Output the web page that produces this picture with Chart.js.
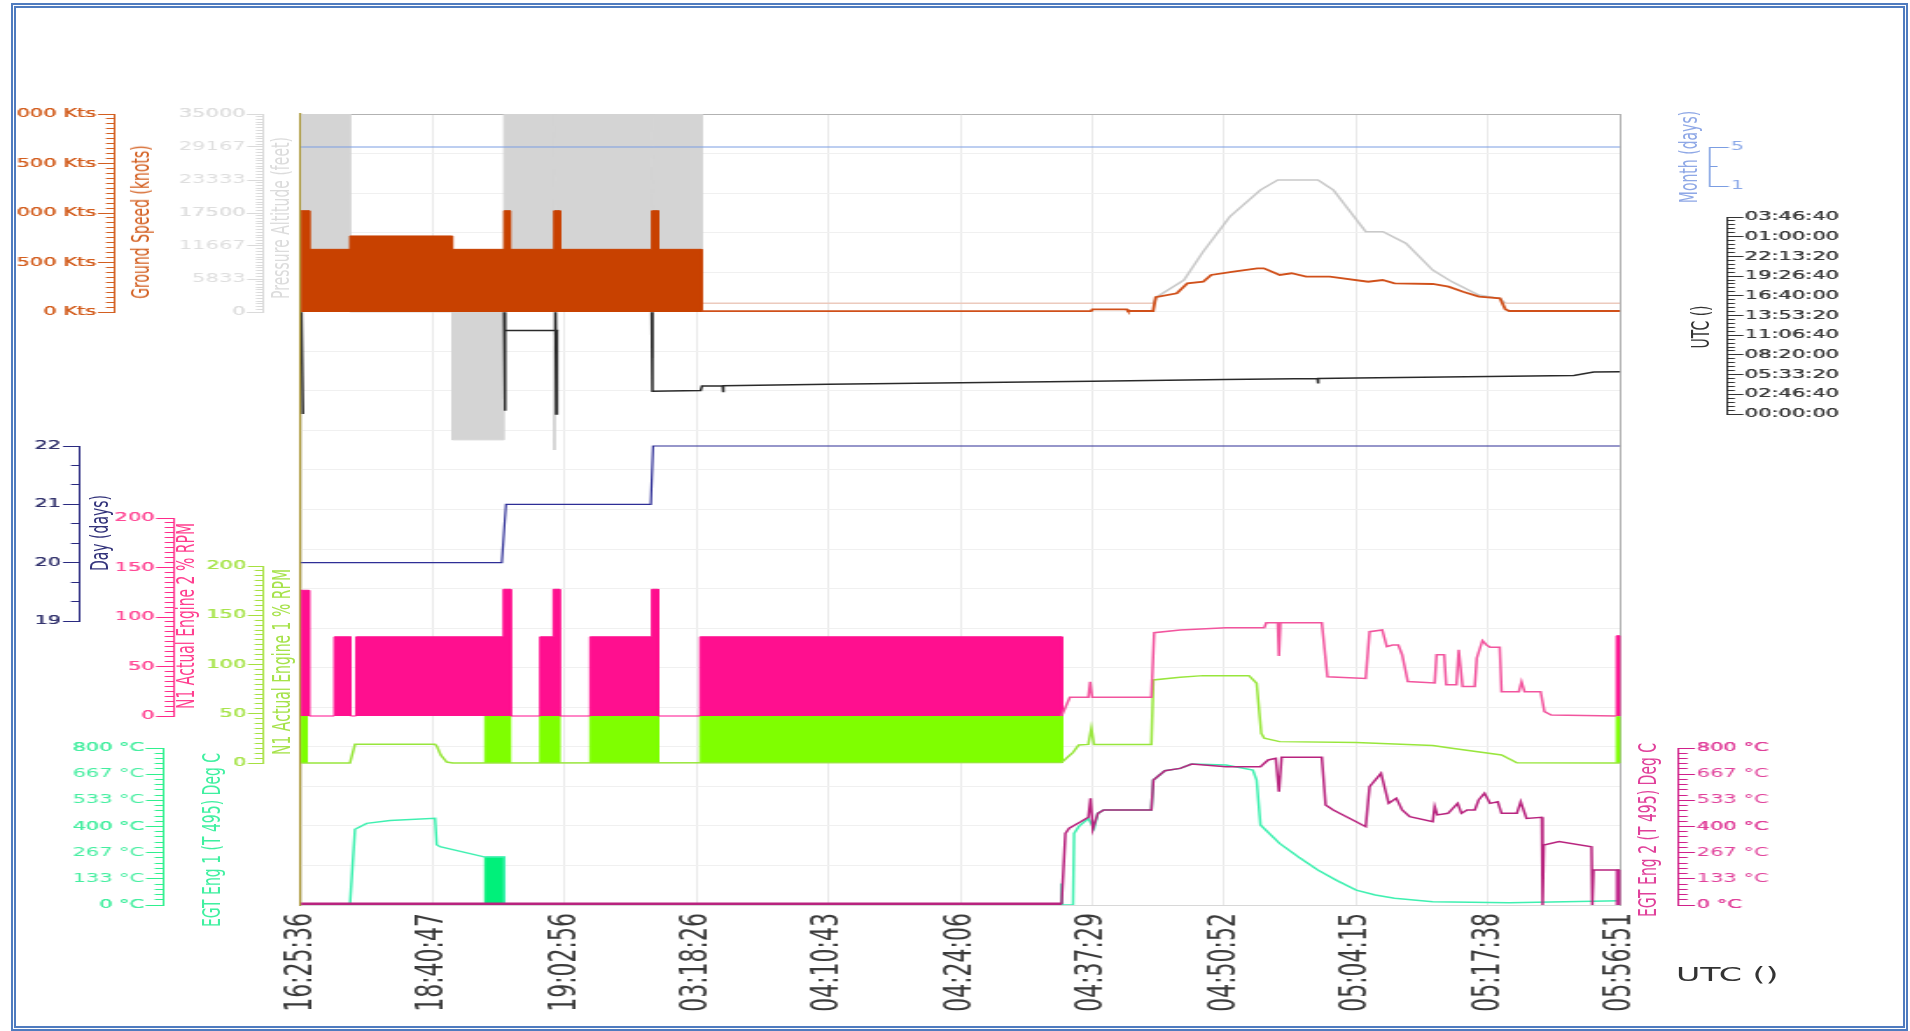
<!DOCTYPE html>
<html><head><meta charset="utf-8">
<script src="https://cdn.jsdelivr.net/npm/chart.js@4.4.1/dist/chart.umd.min.js"></script>
<style>
html,body{margin:0;padding:0;background:#fff;overflow:hidden;}
#page{position:relative;width:1910px;height:1031px;overflow:hidden;background:#fff;}
#stage{position:absolute;left:0;top:0;width:1092px;height:1031px;transform-origin:0 0;transform:scaleX(1.749084);}
.t{position:absolute;white-space:nowrap;font-family:'DejaVu Sans';font-size:14px;line-height:1;transform:translate(-50%,-50%) rotate(-90deg);}
.h{position:absolute;white-space:nowrap;font-family:'DejaVu Sans';line-height:1;}
#cover{position:absolute;left:0;top:0;width:17px;height:1031px;background:#fff;z-index:2;}
#frame{position:absolute;left:11px;top:3px;width:1897px;height:1028px;box-sizing:border-box;border:5px double #4f7bbf;z-index:3;}
</style></head>
<body>
<div id="page">
  <div id="stage"><canvas id="main" width="1092" height="1031" style="position:absolute;left:0;top:0;"></canvas></div>
  <div id="cover"></div>
  <div id="frame"></div>
</div>
<script>
// ---------------- DATA ----------------
// x axis: sample position 0..1000, labelled with UTC time at every 100
const xTickValues = [0,100,200,300,400,500,600,700,800,900,1000];
const xTickLabels = ['16:25:36','18:40:47','19:02:56','03:18:26','04:10:43','04:24:06','04:37:29','04:50:52','05:04:15','05:17:38','05:56:51'];

// Ground Speed (knots)
const gsNoiseX = [0,0,6.3,6.3,37.1,37.1,114.7,114.7,153.9,153.9,158.5,158.5,191.8,191.8,196.4,196.4,265.9,265.9,270.9,270.9,303.8,303.8];
const gsNoiseY = [0,1023,1023,633,633,768,768,633,633,1023,1023,633,633,1023,1023,633,633,1023,1023,633,633,0];
const gsX = [303.8,599,600,626,627,646,648,664,672,684,690,707,725,730,742,751,762,780,809,820,829,858,870,881,893,909,913,916,1000];
const gsY = [8,8,27,27,10,10,150,189,290,306,374,407,441,441,374,391,357,357,306,323,290,283,256,205,155,138,27,10,10];

// Pressure Altitude (feet)
const paNoiseX = [0,0,37.1,37.1,114.7,114.7,153.9,153.9,191.8,192.1,192.4,265.9,266.2,266.5,303.8,303.8];
const paNoiseY = [0,35000,35000,0,0,-22600,-22600,35000,35000,-24400,35000,35000,-8100,35000,35000,0];
const paX = [303.8,646.2,649.1,669.4,683.9,704.2,727.4,740.5,771,782.6,807.2,820.3,837.7,858,872.5,892.8,908.8,913.1,1000];
const paY = [1532,1532,2710,5657,10665,16852,21566,23333,23333,21566,14200,14200,12140,7424,5360,3005,2420,1532,1532];

// Month (days)
const monthX = [0,1000];
const monthY = [5,5];

// UTC (seconds of day)
const utcX = [0.4,1.4,1.6, 154.0,154.5,155.0,192.6,193.0,193.5,194.0,195.1,195.2, 265.9,266.4,303,304,319.7,320,320.3,400,500,600,700,770.7,771,771.3,800,900,965,980,1000];
const utcY = [51700,0,null, 51700,1600,42400,42400,51700,0,42400,42400,null, 51700,11500,11900,14200,14300,11000,14300,15043,15846,16649,17452,18020,15500,18020,18255,19058,19500,21300,21411];

// Day (days)
const dayX = [0,152.2,155.4,265.2,266.9,1000];
const dayY = [20,20,21,21,22,22];

// N1 Actual Engine 2 % RPM
const n2BlockX = [0,0,6.1,6.1, 25.2,25.2,37.7,37.7, 41.7,41.7,153.4,153.4,159,159, 181.2,181.2,191.3,191.3,196.1,196.1, 219.1,219.1,265.9,265.9,270.9,270.9, 302.5,302.5,577,577, 577, 997.3,997.3,1000,1000];
const n2BlockY = [0,127,127,0, 0,80,80,0, 0,80,80,128,128,0, 0,80,80,128,128,0, 0,80,80,128,128,0, 0,80,80,0, null, 0,81,81,0];
const n2X = [576.6,582.9,596.9,598.3,599.8,644.7,646.8,666.5,701.3,730.3, 731.8,740.5,741.4,742.5,773.9,778.2,807.2,810.1,819.7,823.2, 827.5,831.9,834.8,839.1,859.5,860.9,866.7,868.2,876,877.7, 880.6,889.9,891.4,895.7,898.6,901.5,908.8,910.2,923.3,925.3, 927.6,939.8,942.7,947.9,997.3];
const n2Y = [0,18.9,18.9,34.6,18.9,18.9,84.2,86.9,89.2,89.2, 94.2,94.2,60.6,94.2,94.2,39.7,38,85.2,86.9,70, 71.7,71.7,61.9,34.9,33.3,61.9,61.9,31.6,31.6,66.9, 29.9,29.9,58.6,76.1,72,69.4,69.4,24.6,24.6,34.6, 24.6,24.6,4.4,1,0];

// N1 Actual Engine 1 % RPM
const n1BlockX = [0,0,4.3,4.3, 4.3, 139.5,139.5,158.5,158.5, 158.5, 181.2,181.2,195.8,195.8, 195.8, 219.1,219.1,270.9,270.9, 270.9, 302.5,302.5,577,577, 577, 997.3,997.3,1000,1000];
const n1BlockY = [0,48,48,0, null, 0,48,48,0, null, 0,48,48,0, null, 0,48,48,0, null, 0,48,48,0, null, 0,47,47,0];
const n1X = [0,37.1,40.9,101.6,103,106,110.5,115,576.6,585.3, 589.6,596.9,599.2,601.2,644.7,646.2,666.5,683.9,718.7,724.5, 728,730.3,741.9,800,858,872.5,910.2,921.8,1000];
const n1Y = [0,0,19,19,17,8,1,0,0.5,10.8, 18.3,18.9,35.2,18.9,18.9,84.3,87,88.7,88.7,80.9, 30.1,25.1,21.7,20.7,17.7,15,8.1,0.3,0];

// EGT Eng 1 (T 495) Deg C
const egt1X = [0,37.1,40.9,49.8,67.5,101.6,102.9,105.4,139.5,154.1, 154.1,576,576.6,577.2,585.3,586.1,589.6,596.9,601.2,604.1, 608.5,644.7,646.2,654.9,666.5,675.2,701.3,721.6,724.5,727.4, 741.9,756.5,770.9,785.5,800,814.5,829,858,916,1000];
const egt1Y = [0,0,386,416,430,442,307,297,244,244, 0,0,110,0,0,365,399,441,390,467, 484,484,637,684,696,718,713,688,637,408, 314,243,178,124,76,51,34,17,12,22];
const egt1BlockX = [139.5,139.5,154.1,154.1];
const egt1BlockY = [0,244,244,0];

// EGT Eng 2 (T 495) Deg C
const egt2X = [0,576.6,579.5,582.4,591.1,596.9,598.6,600.3,604.1,608.5, 644.7,646.2,654.9,666.5,675.2,701.3,727.4,733.2,739,741.4, 743.4,773.9,776.8,782.6,800,807.2,810.1,818.8,824.6,830.4, 834.8,840.6,858,859.5,861.5,869.6,876.9,879.8,884.1,889.9, 892.8,897.2,901.5,907.3,910.2,921.8,924.7,929.1,940.7,941.3, 942.2,953.8,978.4,979,979.9,1000];
const egt2Y = [4,4,365,391,424,447,544,386,467,484, 484,637,684,696,718,705,705,739,747,577, 753,753,510,484,424,399,603,671,518,544, 484,450,424,501,459,467,518,467,484,484, 535,569,518,526,467,467,526,441,447,0, 306,323,297,0,178,178];
const egt2BlockX = [997.3,997.3,1000,1000];
const egt2BlockY = [0,178,178,0];

// time cursor markers
const cursorX = [0,0];
const cursorY = [20.16,-0.25];

// axis tick values / labels
const gsTicks = [0,500,1000,1500,2000];
const gsTickLabels = ['0 Kts','500 Kts','1000 Kts','1500 Kts','2000 Kts'];
const paTicks = [0,5833.33,11666.67,17500,23333.33,29166.67,35000];
const paTickLabels = ['0','5833','11667','17500','23333','29167','35000'];
const dayTicks = [19,20,21,22];
const dayTickLabels = ['19','20','21','22'];
const n1Ticks = [0,50,100,150,200];
const n1TickLabels = ['0','50','100','150','200'];
const egtTicks = [0,133.33,266.67,400,533.33,666.67,800];
const egtTickLabels = ['0 °C','133 °C','267 °C','400 °C','533 °C','667 °C','800 °C'];
const utcTicks = [0,10000,20000,30000,40000,50000,60000,70000,80000,90000,100000];
const utcTickLabels = ['00:00:00','02:46:40','05:33:20','08:20:00','11:06:40','13:53:20','16:40:00','19:26:40','22:13:20','01:00:00','03:46:40'];
const monthTicks = [1,5];
const monthTickLabels = ['1','5'];

// ---------------- LAYOUT ----------------
const S = 1910 / 1092;
const nat = fx => fx / S;
const CA_TOP = 114, CA_BOT = 905, STAGE_W = 1092, STAGE_H = 1031;
const CA_LEFT = nat(301), CA_RIGHT = nat(1620);
const FONT = 'DejaVu Sans';

function bandRange(vmin, vmax, yTop, yBot) {
  const per = (vmax - vmin) / (yBot - yTop);
  return { min: vmin - (CA_BOT - yBot) * per, max: vmax + (yTop - CA_TOP) * per };
}
function pts(xs, ys) { return xs.map((x, i) => ({ x: x, y: ys[i] })); }
function steps(a, b, st) { const r = []; for (let v = a; v <= b + 1e-6; v += st) r.push(+v.toFixed(4)); return r; }

const BANDS = {
  yGs: bandRange(0, 2000, 114, 312),
  yPa: bandRange(0, 35000, 114, 312),
  yMonth: bandRange(1, 5, 147, 186),
  yUtc: bandRange(0, 100000, 217, 414),
  yDay: bandRange(19, 22, 446, 621),
  yN2: bandRange(0, 200, 518, 716),
  yN1: bandRange(0, 200, 566, 763),
  yEgt: bandRange(0, 800, 748, 905)
};

const line = (label, xs, ys, axis, color, width, extra) => Object.assign({
  label: label, data: pts(xs, ys), yAxisID: axis, borderColor: color, backgroundColor: color,
  borderWidth: width, pointRadius: 0, tension: 0, spanGaps: false, fill: false
}, extra || {});

const datasets = [
  line('cursor', cursorX, cursorY, 'gridY', '#a89430', 0, {showLine: false, pointRadius: 5, pointStyle: 'triangle', pointRotation: [180, 0], clip: false}),
  line('EGT Eng 2 (T 495) Deg C', egt2X, egt2Y, 'yEgt', '#b8237e', 1.5, {segment: {borderWidth: c => c.p1.parsed.x <= 576.6 ? 3.5 : 1.5}}),
  line('EGT Eng 2 block', egt2BlockX, egt2BlockY, 'yEgt', '#c0208a', 1, {fill: {value: 0}}),
  line('EGT Eng 1 (T 495) Deg C', egt1X, egt1Y, 'yEgt', '#3ff0b0', 1.5),
  line('EGT Eng 1 block', egt1BlockX, egt1BlockY, 'yEgt', '#00f07a', 1, {fill: {value: 0}}),
  line('N1 Actual Engine 2 % RPM', n2X, n2Y, 'yN2', '#f2559e', 1.5),
  line('N1 Engine 2 block', n2BlockX, n2BlockY, 'yN2', '#ff0f8f', 1, {fill: {value: 0}}),
  line('N1 Actual Engine 1 % RPM', n1X, n1Y, 'yN1', '#98e63c', 1.5),
  line('N1 Engine 1 block', n1BlockX, n1BlockY, 'yN1', '#7fff00', 1, {fill: {value: 0}}),
  line('Day (days)', dayX, dayY, 'yDay', '#2e2e96', 1.2),
  line('UTC ()', utcX, utcY, 'yUtc', '#2a2a2a', 1.5),
  line('Month (days)', monthX, monthY, 'yMonth', '#7b9de2', 1),
  line('Ground Speed (knots)', gsX, gsY, 'yGs', '#d0501a', 1.8),
  line('Ground Speed noise', gsNoiseX, gsNoiseY, 'yGs', '#c84100', 1, {fill: {value: 0}}),
  line('Pressure Altitude (feet)', paX, paY, 'yPa', '#c9c9c9', 1.5,
       {segment: {borderColor: c => (c.p0.parsed.y < 1600 && c.p1.parsed.y < 1600) ? '#eccabd' : '#c9c9c9'}}),
  line('Pressure Altitude noise', paNoiseX, paNoiseY, 'yPa', '#d4d4d4', 1, {fill: {value: 0}})
];

const hidden = {};
for (const k in BANDS) hidden[k] = {type: 'linear', display: false, min: BANDS[k].min, max: BANDS[k].max};

new Chart(document.getElementById('main'), {
  type: 'line',
  data: {datasets: datasets},
  options: {
    responsive: false, animation: false, events: [],
    layout: {padding: {left: CA_LEFT, right: STAGE_W - CA_RIGHT, top: CA_TOP, bottom: 0}},
    plugins: {legend: {display: false}, tooltip: {enabled: false}},
    scales: Object.assign({
      x: {
        type: 'linear', position: 'bottom', min: 0, max: 1000,
        afterBuildTicks: s => { s.ticks = xTickValues.map(v => ({value: v})); },
        afterFit: s => { s.height = STAGE_H - CA_BOT; },
        ticks: {autoSkip: false, minRotation: 90, maxRotation: 90, padding: 8, color: '#3a3a3a',
                font: {family: FONT, size: 22},
                callback: v => { const i = xTickValues.indexOf(v); return i >= 0 ? xTickLabels[i] : ''; }},
        grid: {color: '#eaeaea', lineWidth: 1, drawTicks: false},
        border: {color: '#d8d8d8', width: 1}
      },
      xTop: {
        type: 'linear', position: 'top', min: 0, max: 1000,
        ticks: {display: false}, grid: {display: false},
        border: {color: '#b2b2b2', width: 1}, afterFit: s => { s.height = 0; }
      },
      gridY: {
        type: 'linear', position: 'left', min: 0, max: 20,
        afterBuildTicks: s => { s.ticks = steps(0, 20, 1).map(v => ({value: v})); },
        ticks: {display: false}, grid: {color: '#f0f0f0', drawTicks: false},
        border: {color: '#a89430', width: 1.2}, afterFit: s => { s.width = 0; }
      },
      yRight: {
        type: 'linear', position: 'right', min: 0, max: 1,
        ticks: {display: false}, grid: {display: false},
        border: {color: '#b2b2b2', width: 1}, afterFit: s => { s.width = 0; }
      }
    }, hidden)
  }
});

// ---------------- AXIS STRIPS ----------------
const stage = document.getElementById('stage');
function makeAxis(a) {
  const P = 14, W = 110;
  const h = (a.yBot - a.yTop) + 2 * P;
  const cw = W + 4;
  const cv = document.createElement('canvas');
  cv.width = cw; cv.height = h;
  const left = a.side === 'left' ? a.lineX - W : a.lineX - 4;
  cv.style.cssText = 'position:absolute;top:' + (a.yTop - P) + 'px;left:' + left + 'px;width:' + cw + 'px;height:' + h + 'px;';
  stage.appendChild(cv);
  const majors = a.majors;
  const all = majors.concat(a.minors).sort((p, q) => p - q);
  const majorIndex = v => majors.findIndex(m => Math.abs(m - v) < 1e-3);
  new Chart(cv, {
    type: 'line', data: {datasets: []},
    options: {
      responsive: false, animation: false, events: [],
      layout: {padding: {top: P, bottom: P, left: 0, right: 0}},
      plugins: {legend: {display: false}, tooltip: {enabled: false}},
      scales: {
        x: {type: 'linear', display: false, min: 0, max: 1},
        y: {
          type: 'linear', position: a.side, min: a.min, max: a.max,
          afterFit: s => { s.width = W; },
          afterBuildTicks: s => { s.ticks = all.map(v => ({value: v})); },
          ticks: {autoSkip: false, padding: a.pad, color: a.labelColor, font: {family: FONT, size: 12},
                  callback: v => { const i = majorIndex(v); return i >= 0 ? a.labels[i] : ''; }},
          grid: {drawOnChartArea: false, drawTicks: true, tickLength: a.tickLen, tickColor: a.color, tickWidth: 1,
                 tickBorderDash: c => majorIndex(c.tick.value) >= 0 ? [] :
                   (a.side === 'left' ? [0, a.tickLen - a.minorLen, 40] : [a.minorLen, 40])},
          border: {color: a.color, width: 1}
        }
      }
    }
  });
}

makeAxis({side: 'left', lineX: nat(114), yTop: 114, yBot: 312, min: 0, max: 2000, majors: gsTicks, labels: gsTickLabels,
  minors: steps(0, 2000, 50), tickLen: 9, minorLen: 4.4, pad: 1, color: '#d35f20', labelColor: '#d35f20'});
makeAxis({side: 'left', lineX: nat(263), yTop: 114, yBot: 312, min: 0, max: 35000, majors: paTicks, labels: paTickLabels,
  minors: steps(0, 35000, 35000 / 72), tickLen: 8.6, minorLen: 3.6, pad: 1, color: '#dadada', labelColor: '#dedede'});
makeAxis({side: 'left', lineX: nat(79), yTop: 446, yBot: 621, min: 19, max: 22, majors: dayTicks, labels: dayTickLabels,
  minors: steps(19, 22, 1 / 3), tickLen: 9, minorLen: 4.4, pad: 1, color: '#2a2a80', labelColor: '#34346e'});
makeAxis({side: 'left', lineX: nat(173), yTop: 518, yBot: 716, min: 0, max: 200, majors: n1Ticks, labels: n1TickLabels,
  minors: steps(0, 200, 5), tickLen: 9.5, minorLen: 4.8, pad: 1, color: '#ff2a8a', labelColor: '#ff4a96'});
makeAxis({side: 'left', lineX: nat(263), yTop: 566, yBot: 763, min: 0, max: 200, majors: n1Ticks, labels: n1TickLabels,
  minors: steps(0, 200, 5), tickLen: 8.2, minorLen: 4.4, pad: 1, color: '#a6e040', labelColor: '#a8e44c'});
makeAxis({side: 'left', lineX: nat(163), yTop: 748, yBot: 905, min: 0, max: 800, majors: egtTicks, labels: egtTickLabels,
  minors: steps(0, 800, 800 / 30), tickLen: 9.5, minorLen: 4.5, pad: 1, color: '#2ff08e', labelColor: '#45eea0'});
makeAxis({side: 'right', lineX: nat(1677), yTop: 748, yBot: 905, min: 0, max: 800, majors: egtTicks, labels: egtTickLabels,
  minors: steps(0, 800, 800 / 30), tickLen: 10, minorLen: 4.8, pad: 1, color: '#d0208a', labelColor: '#e0409a'});
makeAxis({side: 'right', lineX: nat(1727), yTop: 217, yBot: 414, min: 0, max: 100000, majors: utcTicks, labels: utcTickLabels,
  minors: steps(0, 100000, 2000), tickLen: 9.5, minorLen: 3.8, pad: 1, color: '#333333', labelColor: '#3a3a3a'});
makeAxis({side: 'right', lineX: nat(1708), yTop: 147, yBot: 186, min: 1, max: 5, majors: monthTicks, labels: monthTickLabels,
  minors: [3], tickLen: 11.4, minorLen: 4, pad: 1, color: '#7b9de2', labelColor: '#8aa8e8'});

// ---------------- TITLES ----------------
const titles = [
  ['Ground Speed (knots)', 140, 222, '#d35f20'],
  ['Pressure Altitude (feet)', 280, 218, '#dcdcdc'],
  ['Day (days)', 100, 533, '#32327a'],
  ['N1 Actual Engine 2 % RPM', 185, 616, '#ff3f8f'],
  ['N1 Actual Engine 1 % RPM', 282, 662, '#a6e24a'],
  ['EGT Eng 1 (T 495) Deg C', 212, 840, '#3ff0a0'],
  ['EGT Eng 2 (T 495) Deg C', 1647, 830, '#e0409a'],
  ['Month (days)', 1688, 157, '#8fa8e6'],
  ['UTC ()', 1700, 327, '#333333']
];
for (const t of titles) {
  const d = document.createElement('div');
  d.className = 't'; d.textContent = t[0];
  d.style.left = nat(t[1]) + 'px'; d.style.top = t[2] + 'px'; d.style.color = t[3];
  stage.appendChild(d);
}
const u = document.createElement('div');
u.className = 'h'; u.textContent = 'UTC ()';
u.style.cssText += 'left:' + nat(1676) + 'px;top:' + (975 - 10) + 'px;font-size:19px;color:#333;';
stage.appendChild(u);
</script>
</body></html>
